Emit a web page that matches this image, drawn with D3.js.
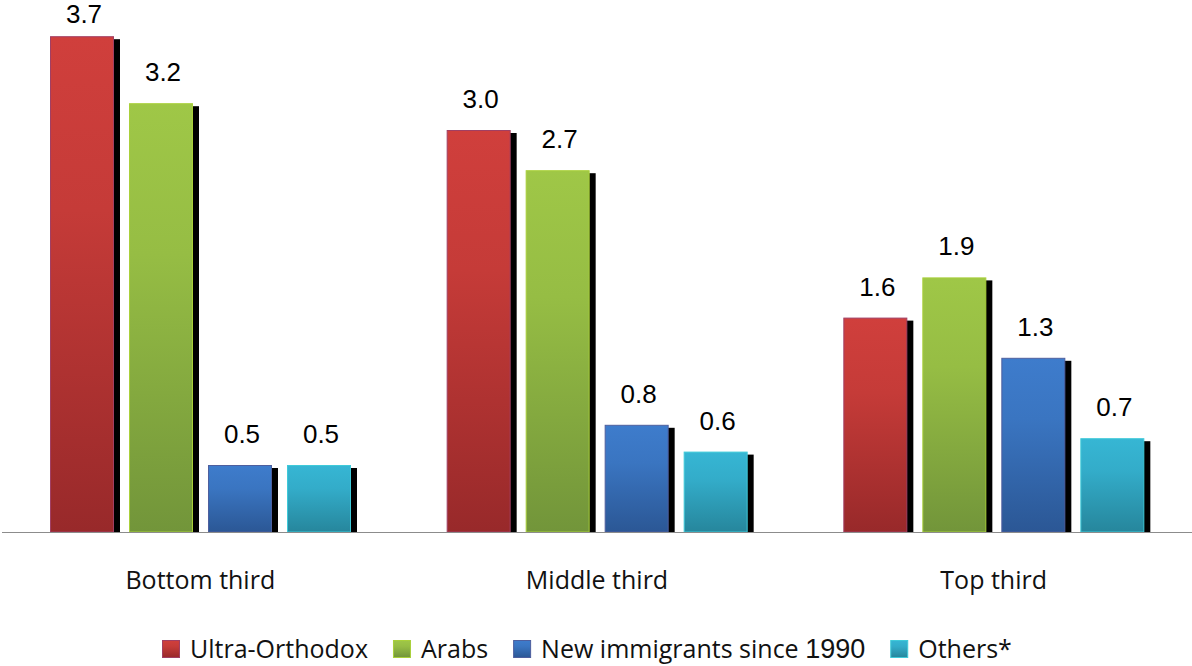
<!DOCTYPE html>
<html>
<head>
<meta charset="utf-8">
<script src="https://cdn.jsdelivr.net/npm/d3@7"></script>
<style>
  html, body { margin: 0; padding: 0; background: #fff; }
  svg { display: block; }
</style>
</head>
<body>
<svg id="chart" width="1192" height="666"></svg>
<script>
// Income thirds and population groups
const categories = ["Bottom third", "Middle third", "Top third"];
const seriesNames = ["Ultra-Orthodox", "Arabs", "New immigrants since 1990", "Others*"];

// Values per group, in category order
const ultraOrthodox = [3.7, 3.0, 1.6];
const arabs         = [3.2, 2.7, 1.9];
const newImmigrants = [0.5, 0.8, 1.3];
const others        = [0.5, 0.6, 0.7];

const seriesValues = [ultraOrthodox, arabs, newImmigrants, others];

// Bar fills: top colour, bottom colour, edge colour
const palette = [
  { top: "#D03F3C", bottom: "#98292A", edge: "#A13F63" },
  { top: "#9FC747", bottom: "#72953A", edge: "#A9D03A" },
  { top: "#3E7CCC", bottom: "#2B5795", edge: "#4E5F9E" },
  { top: "#36B6D4", bottom: "#26869C", edge: "#3FCAD9" }
];

const W = 1192, H = 666;
const baseline = 532;
const svg = d3.select("#chart");

const x0 = d3.scaleBand().domain(categories).range([2, W]).padding(0);
const x1 = d3.scaleBand().domain(seriesNames).range([48, 349]).paddingInner(15 / 79).paddingOuter(0);
const y = d3.scaleLinear().domain([0, 4]).range([baseline, -4]);

// Vertical gradients for each series
const defs = svg.append("defs");
palette.forEach((p, i) => {
  const g = defs.append("linearGradient")
    .attr("id", "grad" + i)
    .attr("x1", 0).attr("y1", 0).attr("x2", 0).attr("y2", 1);
  g.append("stop").attr("offset", "0%").attr("stop-color", p.top);
  g.append("stop").attr("offset", "35%").attr("stop-color", d3.interpolateRgb(p.top, p.bottom)(0.2));
  g.append("stop").attr("offset", "100%").attr("stop-color", p.bottom);
});

// Flatten into one record per bar
const bars = [];
categories.forEach((c, ci) => {
  seriesNames.forEach((s, si) => {
    bars.push({ category: c, series: s, si, value: seriesValues[si][ci] });
  });
});

const fmt = d3.format(".1f");
const groups = svg.append("g").selectAll("g.group")
  .data(categories)
  .join("g")
  .attr("class", "group")
  .attr("transform", d => `translate(${x0(d)},0)`);

const shadowDx = 6, shadowDy = 3;

groups.each(function (cat) {
  const g = d3.select(this);
  const rows = bars.filter(b => b.category === cat);

  // drop shadows
  g.selectAll("rect.shadow")
    .data(rows)
    .join("rect")
    .attr("class", "shadow")
    .attr("x", d => x1(d.series) + shadowDx)
    .attr("y", d => y(d.value) + shadowDy)
    .attr("width", x1.bandwidth())
    .attr("height", d => baseline - y(d.value) - shadowDy)
    .attr("fill", "#000");

  // bars
  g.selectAll("rect.bar")
    .data(rows)
    .join("rect")
    .attr("class", "bar")
    .attr("x", d => x1(d.series) + 0.5)
    .attr("y", d => y(d.value) + 0.5)
    .attr("width", x1.bandwidth() - 1)
    .attr("height", d => baseline - y(d.value) - 0.5)
    .attr("fill", d => `url(#grad${d.si})`)
    .attr("stroke", d => palette[d.si].edge)
    .attr("stroke-width", 1);

  // value labels (kept inside the top edge)
  g.selectAll("text.value")
    .data(rows)
    .join("text")
    .attr("class", "value")
    .attr("x", d => x1(d.series) + x1.bandwidth() / 2 + 2)
    .attr("y", d => Math.max(y(d.value) - 22, 23))
    .attr("text-anchor", "middle")
    .attr("font-family", "'Liberation Sans', Arial, sans-serif")
    .attr("font-size", 26)
    .attr("fill", "#000")
    .text(d => fmt(d.value));
});

// category axis line
svg.append("line")
  .attr("x1", 2).attr("x2", W)
  .attr("y1", baseline + 0.5).attr("y2", baseline + 0.5)
  .attr("stroke", "#8c8c8c")
  .attr("stroke-width", 1.2);

// category labels
svg.append("g").selectAll("text")
  .data(categories)
  .join("text")
  .attr("x", d => x0(d) + x0.bandwidth() / 2)
  .attr("y", 589)
  .attr("text-anchor", "middle")
  .attr("font-family", "'Open Sans', sans-serif")
  .attr("font-size", 25)
  .attr("fill", "#111")
  .text(d => d);

// legend
const legend = svg.append("g").attr("class", "legend");
let lx = 162;
const sw = 18, legendBase = 658;
seriesNames.forEach((name, i) => {
  const item = legend.append("g");
  item.append("rect")
    .attr("x", lx + 0.5).attr("y", legendBase - sw + 0.5)
    .attr("width", sw - 1).attr("height", sw - 1)
    .attr("fill", `url(#grad${i})`)
    .attr("stroke", palette[i].edge);
  const t = item.append("text")
    .attr("x", lx + sw + 10)
    .attr("y", legendBase)
    .attr("font-family", "'Open Sans', sans-serif")
    .attr("font-size", 25)
    .attr("fill", "#111");
  const m = name.match(/^(.*?)(\d{4})$/);
  if (m) {
    t.append("tspan").text(m[1]);
    t.append("tspan")
      .attr("font-family", "'Liberation Sans', Arial, sans-serif")
      .attr("font-size", 27)
      .text(m[2]);
  } else {
    t.text(name);
  }
  lx += sw + 10 + t.node().getComputedTextLength() + 25;
});
</script>
</body>
</html>
